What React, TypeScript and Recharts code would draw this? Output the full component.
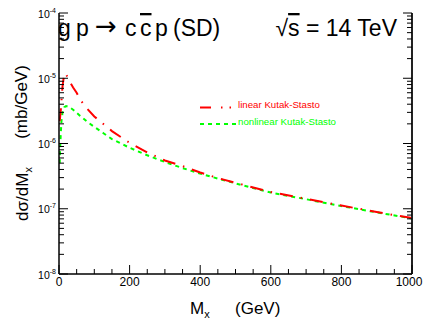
import React from "react";
import { LineChart, Line, XAxis, YAxis } from "recharts";

// ---- data ----
const MX_VALUES = [2, 3, 5, 7, 10, 15, 20, 30, 40, 50, 60, 80, 100, 125, 150, 200, 250, 300, 350, 400, 450, 500, 600, 700, 800, 900, 1000];
const LINEAR_KS = [2.2e-6, 2.5e-6, 3.2e-6, 4.5e-6, 7.5e-6, 1.2e-5, 1.15e-5, 9e-6, 7.2e-6, 6e-6, 4.7e-6, 3.4e-6, 2.6e-6, 2.0e-6, 1.55e-6, 1.02e-6, 7.3e-7, 5.5e-7, 4.5e-7, 3.6e-7, 2.95e-7, 2.5e-7, 1.8e-7, 1.42e-7, 1.12e-7, 8.9e-8, 7.2e-8];
const NONLINEAR_KS = [5e-7, 8e-7, 1.4e-6, 2.2e-6, 3.0e-6, 3.6e-6, 3.75e-6, 3.6e-6, 3.3e-6, 2.95e-6, 2.65e-6, 2.15e-6, 1.8e-6, 1.45e-6, 1.17e-6, 8.6e-7, 6.6e-7, 5.2e-7, 4.2e-7, 3.45e-7, 2.9e-7, 2.45e-7, 1.77e-7, 1.4e-7, 1.1e-7, 8.8e-8, 7.1e-8];

const X_LABELED = [0, 200, 400, 600, 800, 1000];
const X_TICKS = [0, 50, 100, 150, 200, 250, 300, 350, 400, 450, 500, 550, 600, 650, 700, 750, 800, 850, 900, 950, 1000];
const Y_DECADES = [1e-8, 1e-7, 1e-6, 1e-5, 1e-4];
const Y_DECADE_EXP = ["-8", "-7", "-6", "-5", "-4"];
const Y_MINOR_MULT = [2, 3, 4, 5, 6, 7, 8, 9];

const data = MX_VALUES.map((m, i) => ({ m, lin: LINEAR_KS[i], nonlin: NONLINEAR_KS[i] }));

const yTicks: number[] = [];
Y_DECADES.forEach((d, i) => {
  yTicks.push(d);
  if (i < Y_DECADES.length - 1) Y_MINOR_MULT.forEach((k) => yTicks.push(d * k));
});

const FONT = "'Liberation Sans', Arial, Helvetica, sans-serif";
const RED = "#ff0000";
const GREEN = "#00ff00";
const RED_DASH = "13 8 1.5 8";
const GREEN_DASH = "4 4";

const isDecade = (v: number) => Y_DECADES.some((d) => Math.abs(v / d - 1) < 1e-6);
const decadeExp = (v: number) => {
  const i = Y_DECADES.findIndex((d) => Math.abs(v / d - 1) < 1e-6);
  return Y_DECADE_EXP[i];
};

const BottomTick = (props: any) => {
  const { x, y, payload } = props;
  const v = payload.value;
  const major = X_LABELED.includes(v);
  return (
    <g>
      <line x1={x} x2={x} y1={y} y2={y - (major ? 9 : 5)} stroke="#000" strokeWidth={1} />
      {major && (
        <text x={v === 1000 ? x - 3 : x} y={y + 12} textAnchor="middle" fontSize={12} fontFamily={FONT} fill="#000">
          {v}
        </text>
      )}
    </g>
  );
};

const TopTick = (props: any) => {
  const { x, y, payload } = props;
  const major = X_LABELED.includes(payload.value);
  return <line x1={x} x2={x} y1={y} y2={y + (major ? 9 : 5)} stroke="#000" strokeWidth={1} />;
};

const LeftTick = (props: any) => {
  const { x, y, payload } = props;
  const v = payload.value;
  const dec = isDecade(v);
  return (
    <g>
      <line x1={x} x2={x + (dec ? 9 : 5)} y1={y} y2={y} stroke="#000" strokeWidth={1} />
      {dec && (
        <text x={x - 3} y={y + 4.5} textAnchor="end" fontSize={10.5} fontFamily={FONT} fill="#000">
          <tspan>10</tspan>
          <tspan dy={-5} fontSize={7}>{decadeExp(v)}</tspan>
        </text>
      )}
    </g>
  );
};

const RightTick = (props: any) => {
  const { x, y, payload } = props;
  const dec = isDecade(payload.value);
  return <line x1={x} x2={x - (dec ? 9 : 5)} y1={y} y2={y} stroke="#000" strokeWidth={1} />;
};

export default function App() {
  return (
    <div style={{ position: "absolute", left: 0, top: 0, width: 424, height: 320, background: "#fff" }}>
      <LineChart width={424} height={320} data={data} margin={{ top: 13, right: 0, bottom: 0, left: 0 }}>
        <XAxis
          xAxisId="x"
          dataKey="m"
          type="number"
          domain={[0, 1000]}
          ticks={X_TICKS}
          interval={0}
          height={46}
          tickLine={false}
          tickSize={0}
          tickMargin={0}
          axisLine={{ stroke: "#000", strokeWidth: 1.5 }}
          tick={<BottomTick />}
          allowDataOverflow
        />
        <XAxis
          xAxisId="top"
          orientation="top"
          type="number"
          domain={[0, 1000]}
          ticks={X_TICKS}
          interval={0}
          height={0}
          tickLine={false}
          tickSize={0}
          tickMargin={0}
          axisLine={{ stroke: "#000", strokeWidth: 1 }}
          tick={<TopTick />}
          allowDataOverflow
        />
        <YAxis
          yAxisId="left"
          scale="log"
          type="number"
          domain={[1e-8, 1e-4]}
          ticks={yTicks}
          interval={0}
          width={59}
          tickLine={false}
          tickSize={0}
          tickMargin={0}
          axisLine={{ stroke: "#000", strokeWidth: 1.5 }}
          tick={<LeftTick />}
          allowDataOverflow
        />
        <YAxis
          yAxisId="right"
          orientation="right"
          scale="log"
          type="number"
          domain={[1e-8, 1e-4]}
          ticks={yTicks}
          interval={0}
          width={12}
          tickLine={false}
          tickSize={0}
          tickMargin={0}
          axisLine={{ stroke: "#222", strokeWidth: 2 }}
          tick={<RightTick />}
          allowDataOverflow
        />
        <Line
          xAxisId="x"
          yAxisId="left"
          dataKey="nonlin"
          stroke={GREEN}
          strokeWidth={2}
          strokeDasharray={GREEN_DASH}
          dot={false}
          type="linear"
          isAnimationActive={false}
        />
        <Line
          xAxisId="x"
          yAxisId="left"
          dataKey="lin"
          stroke={RED}
          strokeWidth={2}
          strokeDasharray={RED_DASH}
          dot={false}
          type="linear"
          isAnimationActive={false}
        />
      </LineChart>
      <svg
        width={424}
        height={320}
        style={{ position: "absolute", left: 0, top: 0, pointerEvents: "none" }}
        fontFamily={FONT}
      >
        <text y={36} fontSize={23} fill="#000">
          <tspan x={58}>g</tspan>
          <tspan x={76}>p</tspan>
          <tspan x={95} fontFamily="'DejaVu Sans', sans-serif" fontSize={26} dy={-1}>→</tspan>
          <tspan x={125} dy={1}>c</tspan>
          <tspan x={140} style={{ textDecoration: "overline" }}>c</tspan>
          <tspan x={155}>p</tspan>
          <tspan x={173}>(SD)</tspan>
        </text>
        <text x={397} y={36} fontSize={23} fill="#000" textAnchor="end">
          <tspan>√</tspan>
          <tspan style={{ textDecoration: "overline" }}>s</tspan>
          <tspan> = 14 TeV</tspan>
        </text>
        <line x1={200} x2={236} y1={107.5} y2={107.5} stroke={RED} strokeWidth={2} strokeDasharray="11 10 1.5 7 1.5 10" />
        <text x={238} y={108} fontSize={9.7} fill={RED}>linear Kutak-Stasto</text>
        <line x1={200} x2={236} y1={124} y2={124} stroke={GREEN} strokeWidth={2} strokeDasharray={GREEN_DASH} />
        <text x={238} y={125} fontSize={9.7} fill={GREEN}>nonlinear Kutak-Stasto</text>
        <text x={190} y={314} fontSize={17} fill="#000">
          <tspan>M</tspan>
          <tspan dy={4} fontSize={11}>x</tspan>
          <tspan dy={-4} x={235}>(GeV)</tspan>
        </text>
        <text transform="translate(28,194) rotate(-90)" textAnchor="middle" fontSize={17} fill="#000">
          <tspan>dσ/dM</tspan>
          <tspan dy={4} fontSize={11}>x</tspan>
        </text>
        <text transform="translate(27,102) rotate(-90)" textAnchor="middle" fontSize={17} fill="#000">
          (mb/GeV)
        </text>
      </svg>
    </div>
  );
}
